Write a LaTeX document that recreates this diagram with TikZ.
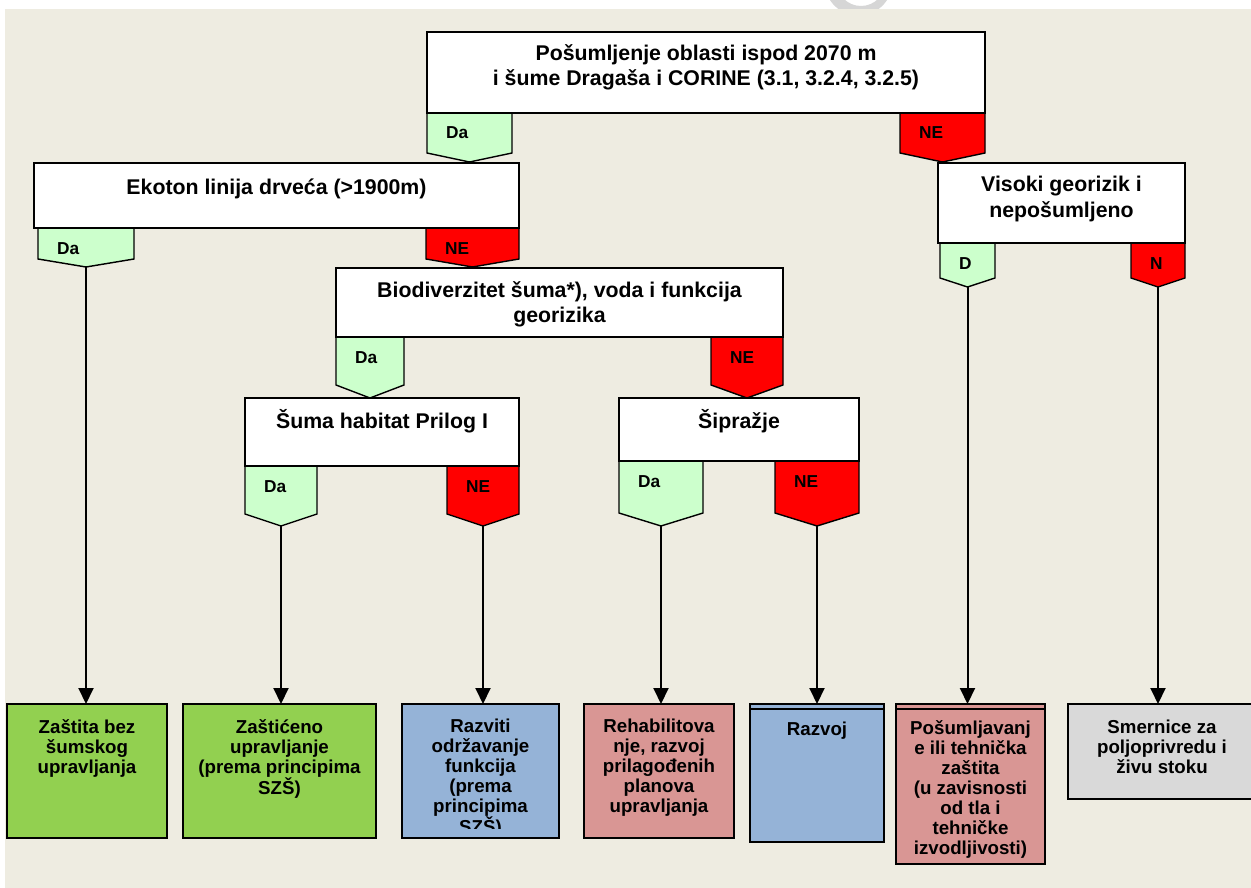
\documentclass[tikz,border=0pt]{standalone}
\usepackage{fontspec}
\setmainfont{Liberation Sans}
\usetikzlibrary{arrows.meta}
\definecolor{bg}{RGB}{238,236,225}
\definecolor{lgreen}{RGB}{204,255,204}
\definecolor{nered}{RGB}{255,0,0}
\definecolor{okgreen}{RGB}{146,208,80}
\definecolor{bblue}{RGB}{149,179,215}
\definecolor{bpink}{RGB}{217,150,148}
\definecolor{bgray}{RGB}{217,217,217}
\definecolor{wm}{RGB}{214,214,214}
\newcommand\mkbox[6]{%
  \node[#6, minimum width={(#4-#2)*1pt}, minimum height={(#5-#3)*1pt}] (#1) at ({(#2+#4)/2},{(#3+#5)/2}) {};}
\newcommand\mkpent[8]{%
  \filldraw[pentline, fill=#7] (#2,#4) -- (#3,#4) -- (#3,#5) -- ({(#2+#3)/2},#6) -- (#2,#5) -- cycle;
  \coordinate (#1tip) at ({(#2+#3)/2},#6);
  \node[pentlabel] (#1lab) at ({#2+19},{#4+26}) {#8};}
\newcommand\mktext[5]{% name x baseline width text
  \node[anchor=base, inner sep=0pt] (#1) at (#2,#3) {\parbox[t]{#4pt}{\centering #5}};}
\begin{document}
\begin{tikzpicture}[x=1pt,y=-1pt,
  boxline/.style={draw=black, line width=2pt},
  qbox/.style={boxline, fill=white, inner sep=0pt, outer sep=0pt},
  abox/.style={boxline, inner sep=0pt, outer sep=0pt},
  pentline/.style={draw=black, line width=1.4pt, line join=miter},
  pentlabel/.style={anchor=base west, inner sep=0pt, font=\fontsize{17.3}{20}\selectfont\bfseries},
  arr/.style={draw=black, line width=2pt, -{Triangle[width=15pt,length=16pt]}}
]
\useasboundingbox (0,0) rectangle (1251,888);
\clip (0,0) rectangle (1251,888);
\fill[white] (0,0) rectangle (1251,888);
\fill[wm, even odd rule] (858.5,-18.3) circle (33.9pt) (861,-18.3) circle (24.3pt);
\fill[bg] (5,9) rectangle (1251,888);

% pentagons
\mkpent{tda}{427}{512}{113}{153}{162}{lgreen}{Da}
\mkpent{tne}{900}{985}{113}{153}{162}{nered}{NE}
\mkpent{eda}{38}{134}{228}{259}{267}{lgreen}{Da}
\mkpent{ene}{426}{519}{228}{259}{267}{nered}{NE}
\mkpent{vda}{940}{995}{243}{278}{287}{lgreen}{D}
\mkpent{vne}{1131}{1185}{243}{278}{287}{nered}{N}
\mkpent{bda}{336}{404}{337}{385}{398}{lgreen}{Da}
\mkpent{bne}{711}{783}{337}{385}{398}{nered}{NE}
\mkpent{sda}{245}{317}{466}{514}{526}{lgreen}{Da}
\mkpent{sne}{447}{519}{466}{514}{526}{nered}{NE}
\mkpent{pda}{619}{703}{461}{513}{526}{lgreen}{Da}
\mkpent{pne}{775}{859}{461}{513}{526}{nered}{NE}

% question boxes
\mkbox{top}{427}{32}{985}{113}{qbox}
\mkbox{eko}{34}{163}{519}{228}{qbox}
\mkbox{vis}{938}{163}{1185}{243}{qbox}
\mkbox{bio}{336}{268}{783}{337}{qbox}
\mkbox{sum}{245}{398}{519}{466}{qbox}
\mkbox{sip}{619}{398}{859}{461}{qbox}

\begin{scope}[font=\fontsize{21.3}{25}\selectfont\bfseries]
\mktext{topT}{706}{61}{556}{Pošumljenje oblasti ispod 2070 m\\i šume Dragaša i CORINE (3.1, 3.2.4, 3.2.5)}
\mktext{ekoT}{276.5}{194}{483}{Ekoton linija drveća (>1900m)}
\mktext{visT}{1061.5}{192}{245}{Visoki georizik i\\nepošumljeno}
\mktext{bioT}{559.5}{297}{445}{Biodiverzitet šuma*), voda i funkcija\\georizika}
\mktext{sumT}{382}{428}{272}{Šuma habitat Prilog I}
\mktext{sipT}{739}{428}{238}{Šipražje}
\end{scope}

% answer boxes
\mkbox{b1}{7}{704}{167}{838}{abox, fill=okgreen}
\mkbox{b2}{183}{704}{376}{838}{abox, fill=okgreen}
\mkbox{b3}{402}{704}{559}{838}{abox, fill=bblue}
\mkbox{b4}{584}{704}{734}{838}{abox, fill=bpink}
\mkbox{b5}{750}{704}{884}{842}{abox, fill=bblue}
\mkbox{b6}{896}{704}{1045}{864}{abox, fill=bpink}
\mkbox{b7}{1068}{704}{1256}{799}{abox, fill=bgray}
\draw[boxline] ([yshift=-5pt]b5.north west) -- ([yshift=-5pt]b5.north east);
\draw[boxline] ([yshift=-5pt]b6.north west) -- ([yshift=-5pt]b6.north east);

\begin{scope}[font=\fontsize{18.7}{20}\selectfont\bfseries]
\mktext{b1T}{87}{733}{156}{Zaštita bez\\šumskog\\upravljanja}
\mktext{b2T}{279.5}{733}{189}{Zaštićeno\\upravljanje\\(prema principima\\SZŠ)}
\begin{scope}
\clip (402,706) rectangle (559,828);
\mktext{b3T}{480.5}{732}{153}{Razviti\\održavanje\\funkcija\\(prema\\principima\\SZŠ)}
\end{scope}
\mktext{b4T}{659}{732}{146}{Rehabilitova\\nje, razvoj\\prilagođenih\\planova\\upravljanja}
\mktext{b5T}{817}{735}{130}{Razvoj}
\mktext{b6T}{970.5}{734}{145}{Pošumljavanj\\e ili tehnička\\zaštita\\(u zavisnosti\\od tla i\\tehničke\\izvodljivosti)}
\mktext{b7T}{1162}{733}{184}{Smernice za\\poljoprivredu i\\živu stoku}
\end{scope}

% connectors
\draw[arr] (edatip) -- (edatip |- b1.north);
\draw[arr] (sdatip) -- (sdatip |- b2.north);
\draw[arr] (snetip) -- (snetip |- b3.north);
\draw[arr] (pdatip) -- (pdatip |- b4.north);
\draw[arr] (pnetip) -- (pnetip |- b5.north);
\draw[arr] (vdatip) -- (vdatip |- b6.north);
\draw[arr] (vnetip) -- (vnetip |- b7.north);
\end{tikzpicture}
\end{document}
